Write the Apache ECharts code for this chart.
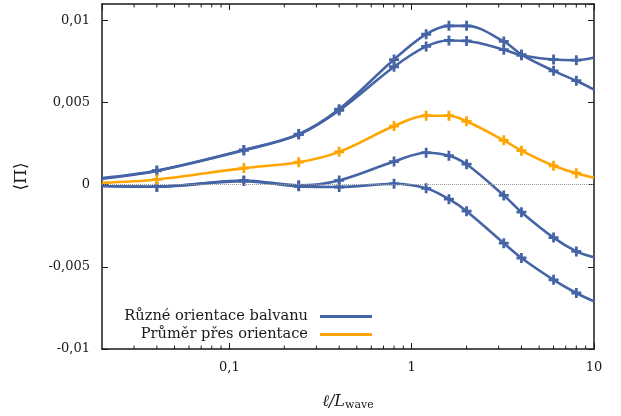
<!DOCTYPE html>
<html><head><meta charset="utf-8">
<script src="https://cdn.jsdelivr.net/npm/echarts@6/dist/echarts.min.js"></script>
<style>html,body{margin:0;padding:0;background:#fff}#c{width:621px;height:416px}</style>
</head><body><div id="c"></div>
<script>
// x positions of the computed points (ℓ / L_wave)
const xValues = [0.02, 0.04, 0.12, 0.24, 0.4, 0.8, 1.2, 1.6, 2, 3.2, 4, 6, 8, 10];
// four orientations of the boulder
const orientA = [0.00040, 0.00086, 0.00212, 0.00308, 0.00460, 0.00762, 0.00916, 0.00967, 0.00967, 0.00872, 0.00792, 0.00693, 0.00633, 0.00579];
const orientB = [0.00037, 0.00084, 0.00209, 0.00305, 0.00452, 0.00718, 0.00842, 0.00878, 0.00875, 0.00822, 0.00788, 0.00762, 0.00758, 0.00774];
const orientC = [-0.00008, -0.00012, 0.00026, -0.00004, 0.00026, 0.00141, 0.00195, 0.00177, 0.00125, -0.00065, -0.00167, -0.00322, -0.00406, -0.00442];
const orientD = [-0.00008, -0.00012, 0.00022, -0.00010, -0.00014, 0.00006, -0.00022, -0.00088, -0.00161, -0.00356, -0.00446, -0.00579, -0.00659, -0.00710];
// average over orientations
const average = [0.00012, 0.00032, 0.00101, 0.00137, 0.00200, 0.00357, 0.00420, 0.00420, 0.00386, 0.00270, 0.00207, 0.00115, 0.00070, 0.00042];

const seriesNames = ['Různé orientace balvanu', 'Průměr přes orientace'];
const xMajorTicks = [0.1, 1, 10];
const xMinorTicks = [0.03,0.04,0.05,0.06,0.07,0.08,0.09,0.2,0.3,0.4,0.5,0.6,0.7,0.8,0.9,2,3,4,5,6,7,8,9];
const yTickLabels = {'-0.01':'-0,01','-0.005':'-0,005','0':'0','0.005':'0,005','0.01':'0,01'};

const X_MIN = 0.02, X_MAX = 10, Y_MIN = -0.01, Y_MAX = 0.011;
const BLUE = '#4564a6', ORANGE = '#ffa500', AXIS = '#1a1a1a', TEXT = '#1a1a1a';
const FONT = 'DejaVu Serif';
const PLUS = 'path://M3.6,0H6.4V3.6H10V6.4H6.4V10H3.6V6.4H0V3.6H3.6Z';

function pts(ys){
  return xValues.map((x,i)=>({
    value:[x, ys[i]],
    symbol: (i===0 || i===xValues.length-1) ? 'none' : PLUS
  }));
}
function lineSeries(name, ys, color){
  return {
    type:'line', name, data: pts(ys), smooth:0.35,
    symbolSize:10, showAllSymbol:true,
    lineStyle:{color, width:2.6},
    itemStyle:{color},
    emphasis:{disabled:true}, silent:true, z:3
  };
}

const chart = echarts.init(document.getElementById('c'), null, {renderer:'canvas'});
const commonX = {type:'log', logBase:10, min:X_MIN, max:X_MAX};
const commonY = {type:'value', min:Y_MIN, max:Y_MAX, interval:0.005};

chart.setOption({
  animation:false,
  backgroundColor:'#fff',
  grid:{left:102, right:27, top:4, bottom:61, containLabel:false},
  legend:{
    orient:'vertical', right:244, bottom:69, align:'right',
    icon:'rect', itemWidth:52, itemHeight:3, itemGap:3,
    data:seriesNames,
    textStyle:{fontFamily:FONT, fontSize:14.6, color:TEXT, padding:[0,7,0,0]},
    selectedMode:false
  },
  xAxis:[
    Object.assign({}, commonX, {
      position:'bottom',
      name:'{i|ℓ/L}{s|wave}', nameLocation:'middle', nameGap:44,
      nameTextStyle:{rich:{
        i:{fontFamily:FONT, fontStyle:'italic', fontSize:16, color:TEXT},
        s:{fontFamily:FONT, fontSize:11, color:TEXT, padding:[7,0,0,0]}
      }},
      axisLine:{show:true, onZero:false, lineStyle:{color:AXIS, width:1.5}},
      axisTick:{show:true, inside:true, length:6, lineStyle:{color:AXIS, width:1}},
      axisLabel:{
        margin:12, fontFamily:FONT, fontSize:13, color:TEXT,
        showMinLabel:false, showMaxLabel:true,
        formatter:(v)=>{
          const m = xMajorTicks.find(t=>Math.abs(v-t)/t<1e-6);
          return m===undefined ? '' : String(m).replace('.', ',');
        }
      },
      splitLine:{show:false}, minorTick:{show:false}
    }),
    Object.assign({}, commonX, {
      position:'top',
      axisLine:{show:true, onZero:false, lineStyle:{color:AXIS, width:1.5}},
      axisTick:{show:true, inside:true, length:6, lineStyle:{color:AXIS, width:1}},
      axisLabel:{show:false}, splitLine:{show:false}
    })
  ],
  yAxis:[
    Object.assign({}, commonY, {
      position:'left',
      name:'⟨Π⟩', nameLocation:'middle', nameGap:72, nameRotate:90,
      nameTextStyle:{fontFamily:FONT, fontSize:17, color:TEXT},
      axisLine:{show:true, onZero:false, lineStyle:{color:AXIS, width:1.5}},
      axisTick:{show:true, inside:true, length:6, lineStyle:{color:AXIS, width:1}},
      axisLabel:{
        margin:12, fontFamily:FONT, fontSize:13, color:TEXT, showMaxLabel:false,
        formatter:(v)=>{ const k = String(+v.toFixed(4)); return yTickLabels[k] !== undefined ? yTickLabels[k] : ''; }
      },
      splitLine:{show:false}
    }),
    Object.assign({}, commonY, {
      position:'right',
      axisLine:{show:true, onZero:false, lineStyle:{color:AXIS, width:1.5}},
      axisTick:{show:true, inside:true, length:6, lineStyle:{color:AXIS, width:1}},
      axisLabel:{show:false}, splitLine:{show:false}
    })
  ],
  series:[
    {
      type:'custom', name:'minor', silent:true, z:1,
      data: xMinorTicks.map(v=>[v, 0]),
      encode:{x:0, y:1},
      renderItem:(params, api)=>{
        const x = api.value(0);
        const b = api.coord([x, Y_MIN]);
        const t = api.coord([x, Y_MAX]);
        return {type:'group', children:[
          {type:'line', shape:{x1:b[0], y1:b[1], x2:b[0], y2:b[1]-3.5}, style:{stroke:AXIS, lineWidth:1}},
          {type:'line', shape:{x1:t[0], y1:t[1], x2:t[0], y2:t[1]+3.5}, style:{stroke:AXIS, lineWidth:1}}
        ]};
      },
      markLine:{
        silent:true, symbol:['none','none'], label:{show:false},
        emphasis:{disabled:true},
        lineStyle:{color:'#9a9a9a', width:1, type:'dotted', opacity:1},
        data:[{yAxis:0}]
      }
    },
    lineSeries(seriesNames[0], orientA, BLUE),
    lineSeries(seriesNames[0], orientB, BLUE),
    lineSeries(seriesNames[0], orientC, BLUE),
    lineSeries(seriesNames[0], orientD, BLUE),
    lineSeries(seriesNames[1], average, ORANGE)
  ]
});
</script>
</body></html>
